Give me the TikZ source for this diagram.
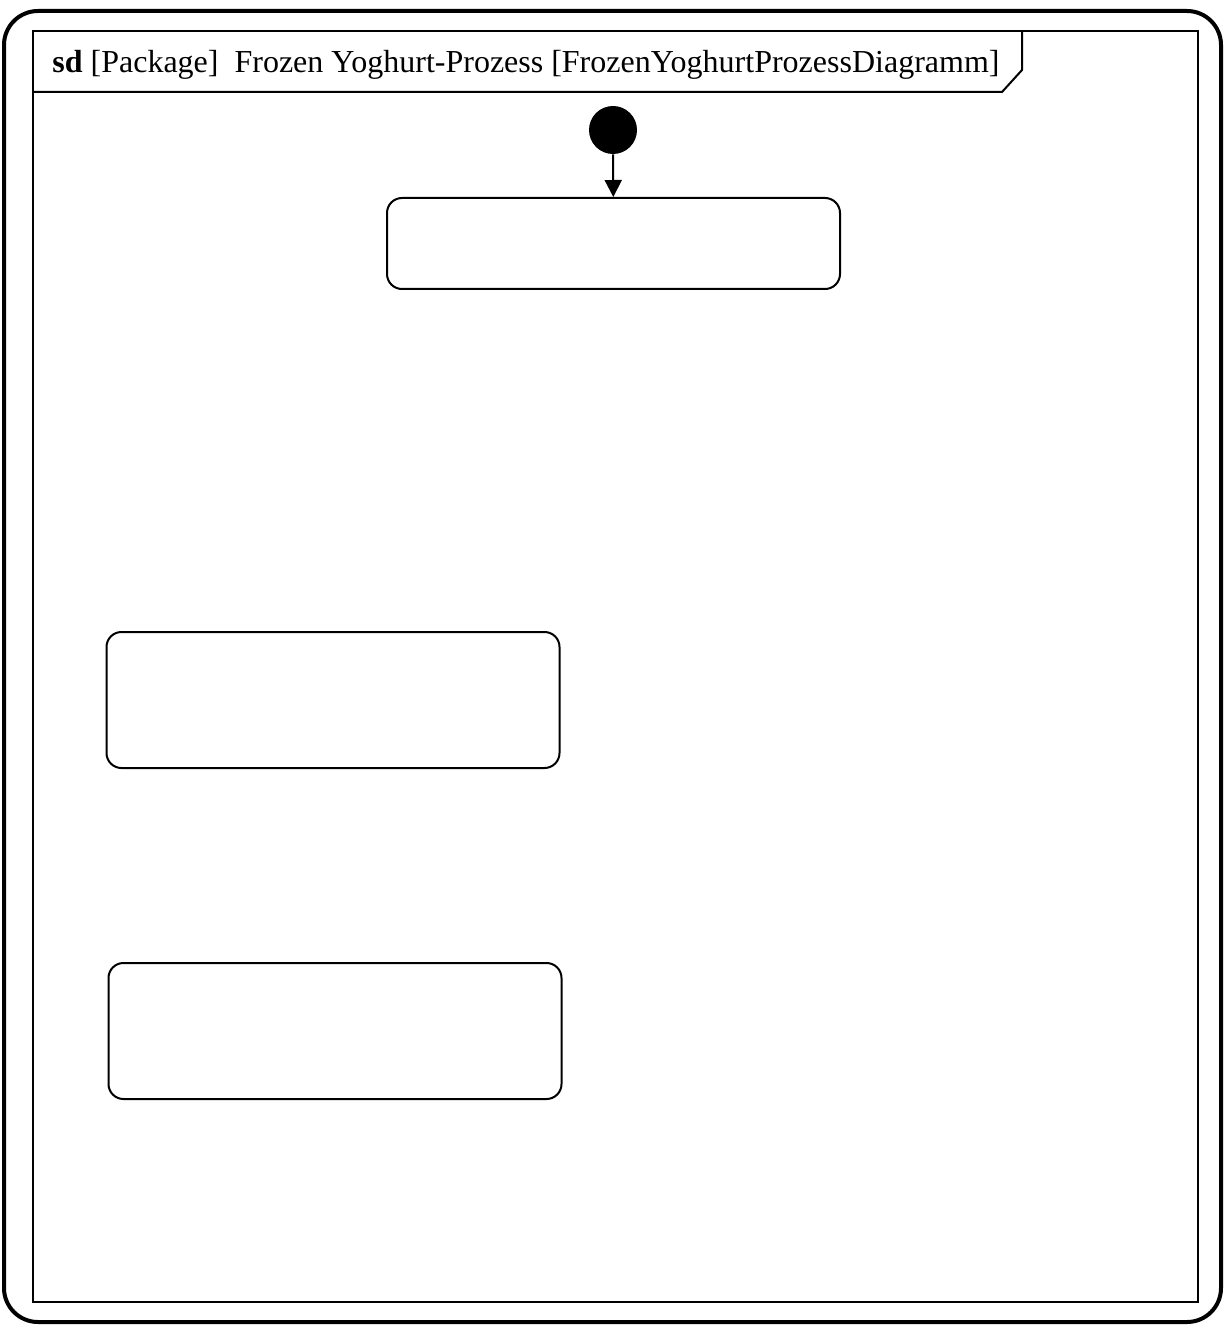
\documentclass[tikz,border=0pt]{standalone}
\usepackage{fontspec}
\setmainfont{Liberation Serif}
\usepackage{tikz}
\usetikzlibrary{arrows.meta, positioning}
\tikzset{
	statebox/.style={draw, line width=1pt, rounded corners=7.5pt, minimum width=226.5pt, inner sep=0pt}
}
\tikzset{
	initstate/.style={circle, fill=black, minimum size=24pt, inner sep=0pt}
}
\tikzset{
	frametext/.style={font=\fontsize{16}{19}\selectfont, inner sep=0pt}
}

\begin{document}
\begin{tikzpicture}[x=0.5pt, y=-0.5pt]
      \useasboundingbox (0,0) rectangle (1225,1326);
      \draw[line width=2pt, rounded corners=17pt] (4,11) rectangle (1221,1322);
      \draw[line width=1pt] (33,31) rectangle (1198,1302);
      \draw[line width=1pt] (33,92) -- (1002,92) -- (1022,70) -- (1022,31);
      \node[frametext, anchor=base west] (title) at (52,73)
        {\textbf{sd} [Package]\ \ Frozen Yoghurt-Prozess [FrozenYoghurtProzessDiagramm]};
      \node[initstate] (start) at (613,130) {};
      \node[statebox, minimum height=45.5pt] (s1) at (613.5,243.5) {};
      \node[statebox, minimum height=68pt] (s2) at (333,700) {};
      \node[statebox, minimum height=68pt] (s3) at (335,1031) {};
      \draw[line width=1pt, -{Triangle[length=8.5pt, width=8.5pt]}] (start) -- (s1);
    \end{tikzpicture}
\end{document}
